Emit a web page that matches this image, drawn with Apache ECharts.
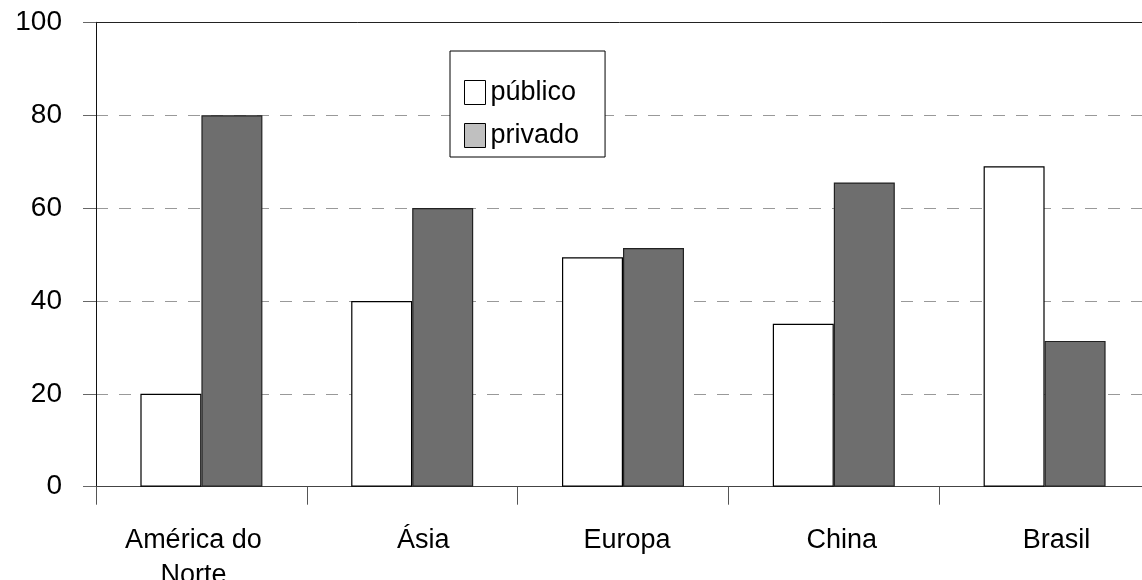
<!DOCTYPE html>
<html>
<head>
<meta charset="utf-8">
<script src="https://cdn.jsdelivr.net/npm/echarts@6/dist/echarts.min.js"></script>
<style>
  html, body { margin: 0; padding: 0; background: #fff; }
  #chart { width: 1142px; height: 580px; }
</style>
</head>
<body>
<div id="chart"></div>
<script>
// Regions and the share (%) of public vs. private funding
const categories = ['América do\nNorte', 'Ásia', 'Europa', 'China', 'Brasil'];
const publico = [20, 40, 49.4, 35.1, 69];
const privado = [80, 60, 51.4, 65.5, 31.4];

const FONT = '"Liberation Sans", Arial, sans-serif';

// small horizontal nudges (px) applied to each category label
const labelNudge = [-8, 11, 4, 8, 12];
const categoryData = categories.map((name, i) => {
  const n = labelNudge[i];
  return {
    value: name,
    textStyle: { padding: n >= 0 ? [0, 0, 0, 2 * n] : [0, -2 * n, 0, 0] }
  };
});

const chart = echarts.init(document.getElementById('chart'), null, { renderer: 'canvas' });

chart.setOption({
  animation: false,
  backgroundColor: '#ffffff',
  textStyle: { fontFamily: FONT, color: '#000' },
  grid: {
    left: 96, right: -8, top: 22.3, bottom: 93.3,
    containLabel: false,
    outerBoundsMode: 'none'
  },
  legend: {
    orient: 'vertical',
    left: 450,
    top: 51,
    itemWidth: 21,
    itemHeight: 24,
    itemGap: 16,
    padding: [28, 26, 8, 14],
    borderColor: '#000',
    borderWidth: 1,
    backgroundColor: '#fff',
    textStyle: { fontFamily: FONT, fontSize: 27, lineHeight: 27, color: '#000' },
    data: [
      { name: 'público', icon: 'rect', itemStyle: { color: '#ffffff', borderColor: '#000', borderWidth: 1 } },
      { name: 'privado', icon: 'rect', itemStyle: { color: '#c0c0c0', borderColor: '#000', borderWidth: 1 } }
    ]
  },
  xAxis: [
    {
      type: 'category',
      data: categoryData,
      axisLine: { show: true, lineStyle: { color: '#444', width: 1 } },
      axisTick: { show: true, length: 18, lineStyle: { color: '#555', width: 1 } },
      axisLabel: {
        fontFamily: FONT, fontSize: 27, lineHeight: 34.5, color: '#000',
        margin: 37, interval: 0
      },
      splitLine: { show: false }
    },
    {
      // solid frame line along the top of the plot
      type: 'category',
      position: 'top',
      data: categories,
      axisLine: { show: true, onZero: false, lineStyle: { color: '#222', width: 1 } },
      axisTick: { show: false },
      axisLabel: { show: false }
    }
  ],
  yAxis: {
    type: 'value',
    min: 0,
    max: 100,
    interval: 20,
    axisLine: { show: true, lineStyle: { color: '#111', width: 1 } },
    axisTick: { show: true, length: 13, lineStyle: { color: '#666', width: 1 } },
    axisLabel: { fontFamily: FONT, fontSize: 28, color: '#000', margin: 34 },
    splitLine: {
      show: true,
      lineStyle: { color: '#999', width: 1, type: [12, 11] }
    }
  },
  series: [
    {
      name: 'público',
      type: 'bar',
      data: publico,
      barWidth: 61,
      barGap: '0%',
      itemStyle: { color: '#ffffff', borderColor: '#000', borderWidth: 1.2 }
    },
    {
      name: 'privado',
      type: 'bar',
      data: privado,
      barWidth: 61,
      barGap: '0%',
      itemStyle: { color: '#6e6e6e', borderColor: '#222', borderWidth: 1.2 }
    }
  ]
});
</script>
</body>
</html>
